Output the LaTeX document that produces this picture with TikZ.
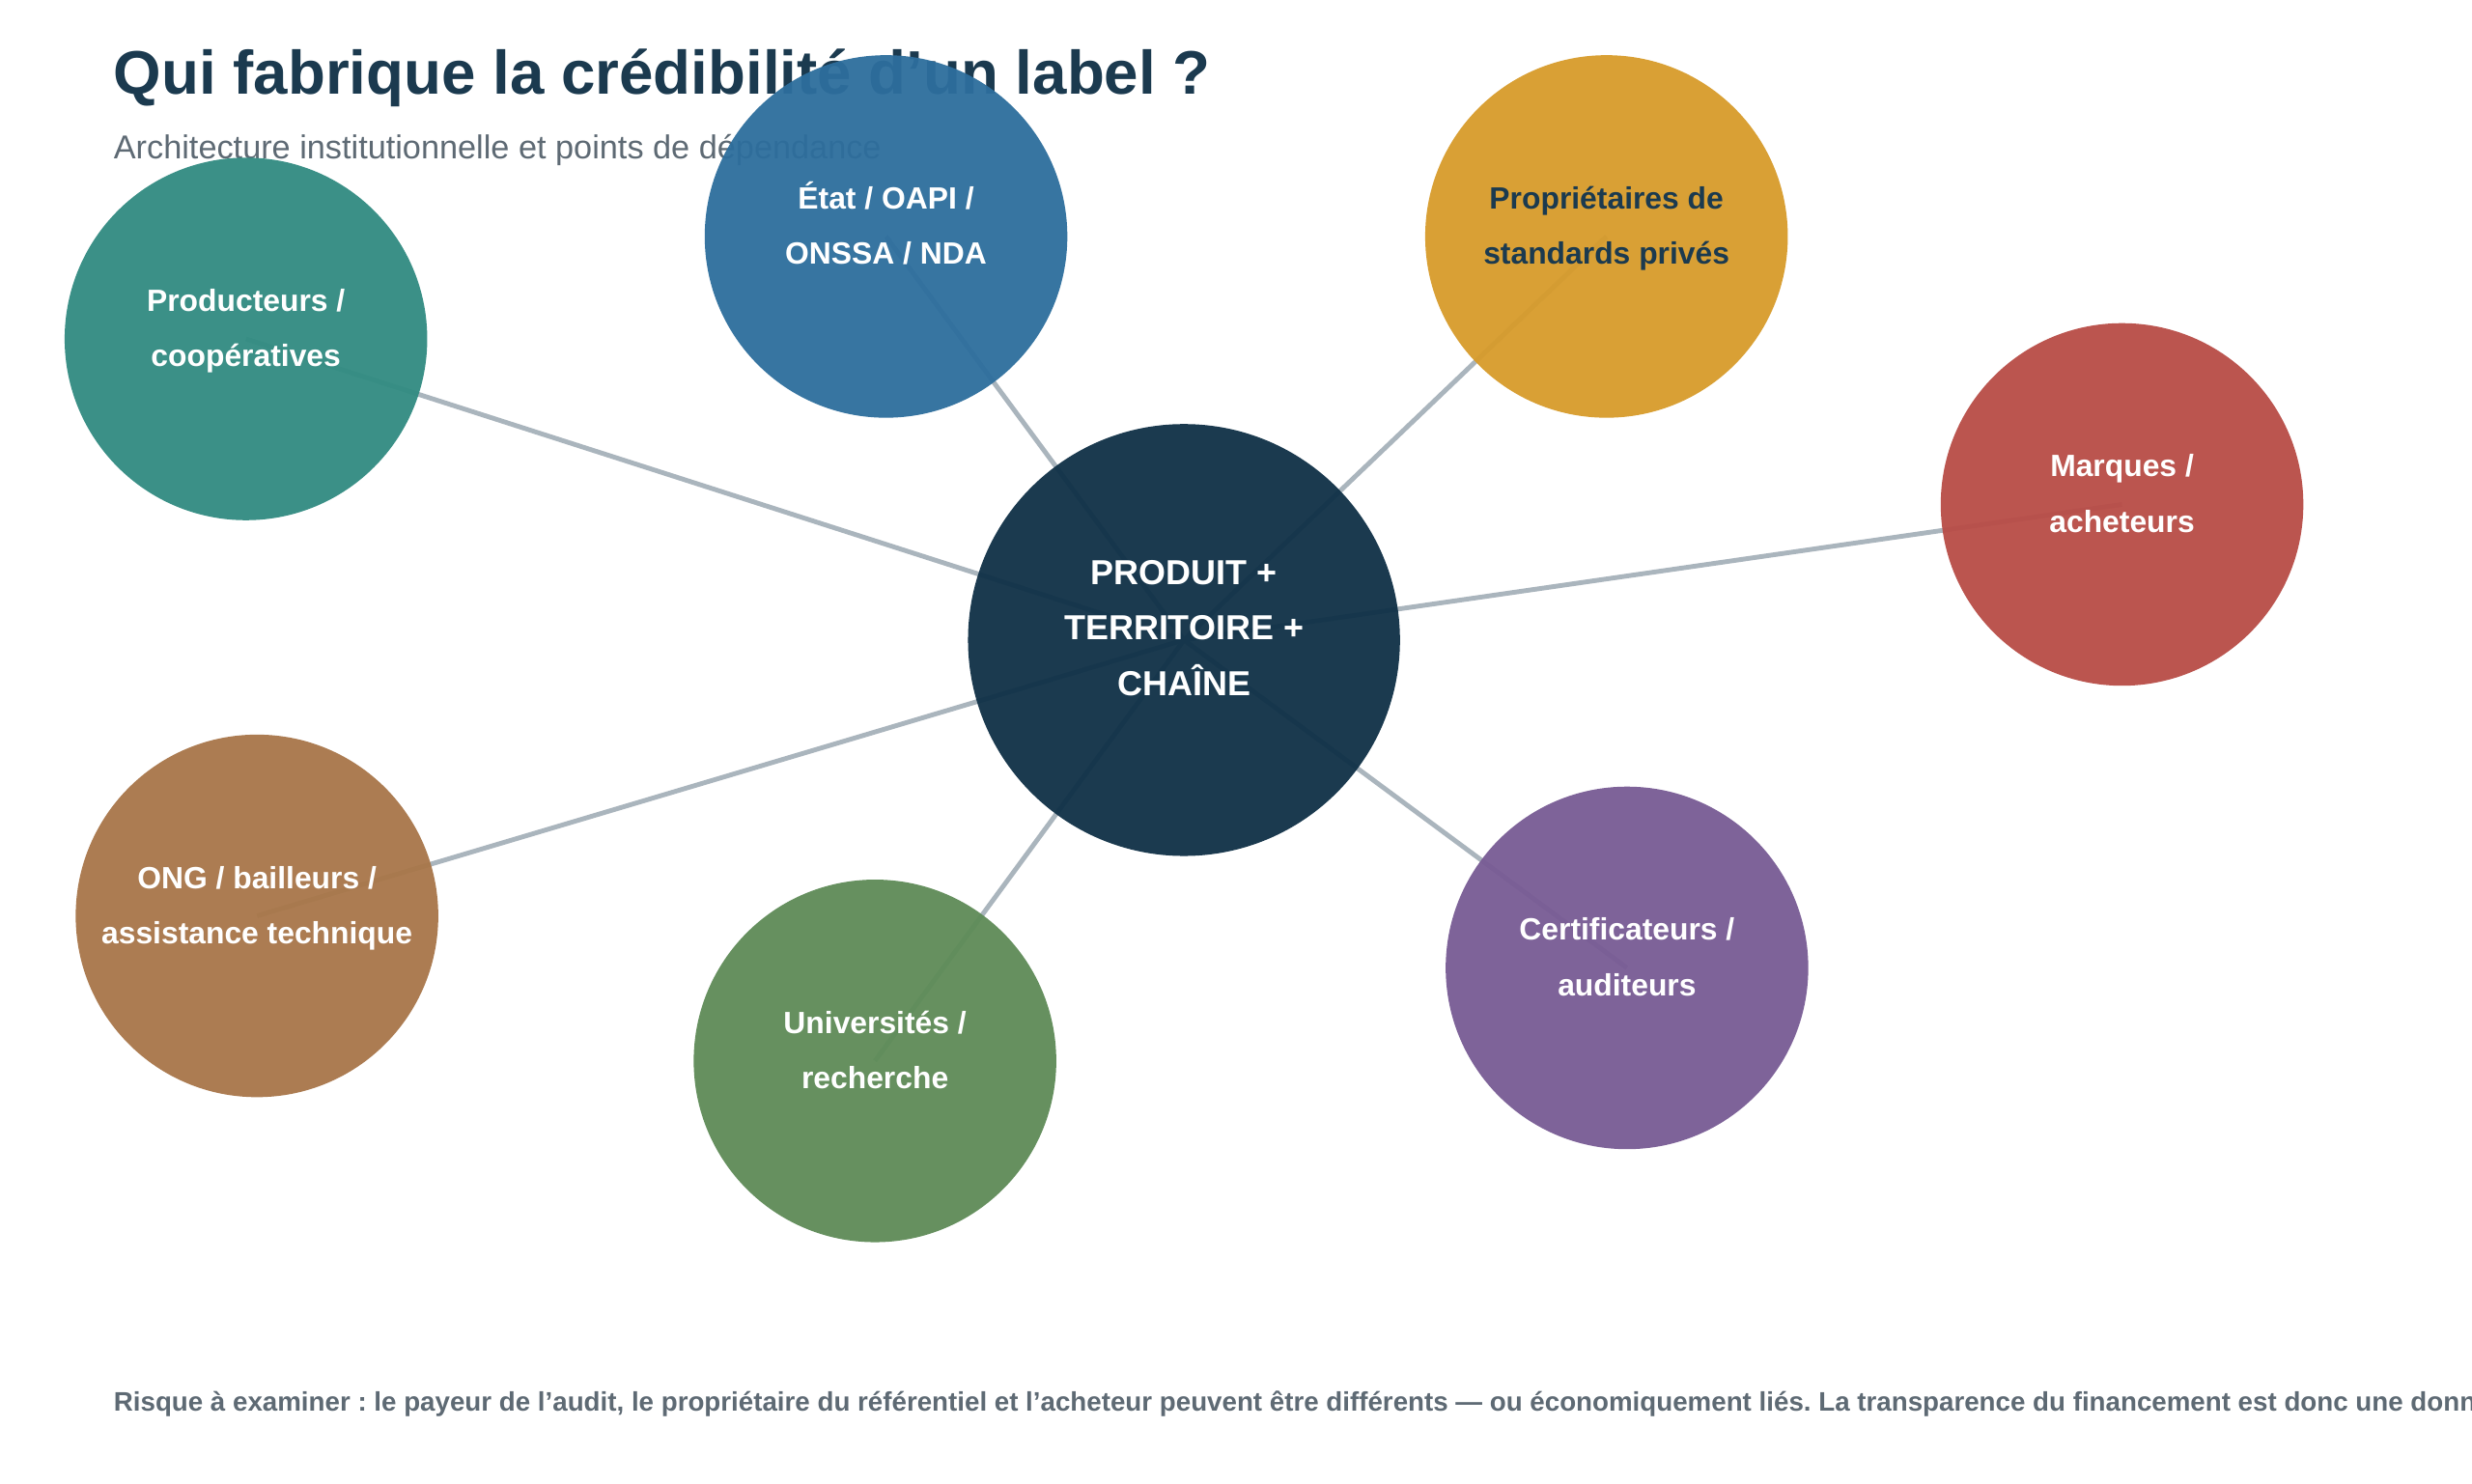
\documentclass[tikz,border=0pt]{standalone}
\usepackage{fontspec}
\setmainfont{Liberation Sans}
\usetikzlibrary{backgrounds}
\frenchspacing
\definecolor{NavyClr}{HTML}{0F3046}
\definecolor{LinkClr}{HTML}{AAB5BD}
\definecolor{GreyClr}{HTML}{5E6A74}
\definecolor{TealClr}{HTML}{318B81}
\definecolor{BlueClr}{HTML}{2D6E9D}
\definecolor{GoldClr}{HTML}{D79B2B}
\definecolor{RedClr}{HTML}{B84C46}
\definecolor{PurpleClr}{HTML}{785B94}
\definecolor{GreenClr}{HTML}{5E8B57}
\definecolor{BrownClr}{HTML}{A87649}
\definecolor{InkClr}{HTML}{1B3A4F}
\newcommand{\TopStrut}{\rule{0pt}{24pt}}
\newcommand{\BotStrut}{\rule[-24pt]{0pt}{24pt}}

\begin{document}
\begin{tikzpicture}[x=1pt,y=-1pt,
  heading/.style={anchor=base west,inner sep=0pt},
  actor/.style={circle,minimum size=230pt,inner sep=0pt,fill opacity=.95,text opacity=1,
    text=white,align=center,font=\bfseries\fontsize{19.5}{35}\selectfont},
  hub/.style={actor,minimum size=274pt,fill=NavyClr,font=\bfseries\fontsize{22}{35}\selectfont},
  link/.style={line width=3pt,color=LinkClr}]

\useasboundingbox (0,0) rectangle (1568,940.8);

\node[heading,text=InkClr,font=\bfseries\fontsize{39}{47}\selectfont] (title) at (72,60)
  {Qui fabrique la crédibilité d’un label ?};
\node[heading,text=GreyClr,font=\fontsize{21}{25}\selectfont] (subtitle) at (72,100.5)
  {Architecture institutionnelle et points de dépendance};

\node[hub] (core) at (751,406) {\TopStrut PRODUIT +\\TERRITOIRE +\\CHAÎNE\BotStrut};

\node[actor,fill=TealClr] (prod) at (156,215) {\TopStrut Producteurs /\\coopératives\BotStrut};
\node[actor,fill=BlueClr] (etat) at (562,150) {\TopStrut État / OAPI /\\ONSSA / NDA\BotStrut};
\node[actor,fill=GoldClr,text=InkClr] (prop) at (1019,150) {\TopStrut Propriétaires de\\standards privés\BotStrut};
\node[actor,fill=RedClr] (marq) at (1346,320) {\TopStrut Marques /\\acheteurs\BotStrut};
\node[actor,fill=PurpleClr] (cert) at (1032,614) {\TopStrut Certificateurs /\\auditeurs\BotStrut};
\node[actor,fill=GreenClr] (univ) at (555,673) {\TopStrut Universités /\\recherche\BotStrut};
\node[actor,fill=BrownClr] (ong) at (163,581) {\TopStrut ONG / bailleurs /\\assistance technique\BotStrut};

\node[heading,text=GreyClr,font=\bfseries\fontsize{16.98}{20}\selectfont] (note) at (72,895)
  {Risque à examiner : le payeur de l’audit, le propriétaire du référentiel et l’acheteur peuvent être différents — ou économiquement liés. La transparence du financement est donc une donnée};

\begin{scope}[on background layer]
\fill[white] (0,0) rectangle (1568,940.8);
\foreach \who in {prod,etat,prop,marq,cert,univ,ong}
  \draw[link] (core.center) -- (\who.center);
\end{scope}

\end{tikzpicture}
\end{document}
